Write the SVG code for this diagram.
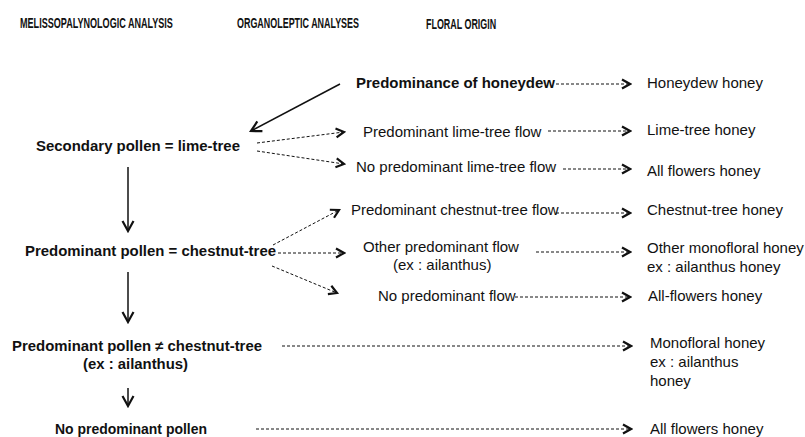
<svg xmlns="http://www.w3.org/2000/svg" width="805" height="437" viewBox="0 0 805 437">
<style>
text{font-family:"Liberation Sans",Arial,sans-serif;fill:#111}
.h{font-size:15px;font-weight:bold}
.b{font-size:14.5px;font-weight:bold}
.r{font-size:15px}
.s{stroke:#111;stroke-width:1.5;fill:none}
.d{stroke:#111;stroke-width:1;fill:none;stroke-dasharray:3 2}
</style>
<defs>
<marker id="ah" markerUnits="userSpaceOnUse" viewBox="-12 -7 14 14" refX="0" refY="0" markerWidth="14" markerHeight="14" orient="auto">
<path d="M-10,-5.5 L0,0 L-10,5.5" fill="none" stroke="#111" stroke-width="2.2"/>
</marker>
<marker id="dh" markerUnits="userSpaceOnUse" viewBox="-12 -7 14 14" refX="0" refY="0" markerWidth="14" markerHeight="14" orient="auto">
<path d="M-8,-4.5 L0,0 L-8,4.5" fill="none" stroke="#111" stroke-width="2.2"/>
</marker>
</defs>
<rect width="805" height="437" fill="#fff"/>
<g id="headers">
<text class="h" transform="translate(20,28) scale(0.595,1)" x="0" y="0" textLength="257" lengthAdjust="spacingAndGlyphs">MELISSOPALYNOLOGIC ANALYSIS</text>
<text class="h" transform="translate(237,28) scale(0.595,1)" x="0" y="0" textLength="205" lengthAdjust="spacingAndGlyphs">ORGANOLEPTIC ANALYSES</text>
<text class="h" transform="translate(426,29) scale(0.595,1)" x="0" y="0" textLength="118" lengthAdjust="spacingAndGlyphs">FLORAL ORIGIN</text>
</g>
<g id="connectors">
<line class="s" x1="128" y1="167" x2="128" y2="231" marker-end="url(#ah)"/>
<line class="s" x1="128" y1="272" x2="128" y2="322" marker-end="url(#ah)"/>
<line class="s" x1="128" y1="388" x2="128" y2="406" marker-end="url(#ah)"/>
<line class="s" x1="340" y1="84" x2="251" y2="131" marker-end="url(#ah)"/>
<line class="d" x1="257" y1="143" x2="344" y2="132" marker-end="url(#dh)"/>
<line class="d" x1="257" y1="151" x2="344" y2="164" marker-end="url(#dh)"/>
<line class="d" x1="273" y1="245" x2="339" y2="210" marker-end="url(#dh)"/>
<line class="d" x1="278" y1="253" x2="344" y2="253" marker-end="url(#dh)"/>
<line class="d" x1="272" y1="266" x2="337" y2="293" marker-end="url(#dh)"/>
<line class="d" x1="556" y1="84" x2="630" y2="84" marker-end="url(#dh)"/>
<line class="d" x1="548" y1="131" x2="630" y2="131" marker-end="url(#dh)"/>
<line class="d" x1="563" y1="169" x2="630" y2="169" marker-end="url(#dh)"/>
<line class="d" x1="556" y1="213" x2="630" y2="213" marker-end="url(#dh)"/>
<line class="d" x1="536" y1="252" x2="630" y2="252" marker-end="url(#dh)"/>
<line class="d" x1="515" y1="297" x2="630" y2="297" marker-end="url(#dh)"/>
<line class="d" x1="282" y1="346" x2="631" y2="346" marker-end="url(#dh)"/>
<line class="d" x1="256" y1="429" x2="631" y2="429" marker-end="url(#dh)"/>
</g>
<g id="n-secondary"><text class="b" x="36" y="151" textLength="204" lengthAdjust="spacingAndGlyphs">Secondary pollen = lime-tree</text></g>
<g id="n-chestnut"><text class="b" x="25" y="256" textLength="251" lengthAdjust="spacingAndGlyphs">Predominant pollen = chestnut-tree</text></g>
<g id="n-notchestnut"><text class="b" x="12" y="351" textLength="250" lengthAdjust="spacingAndGlyphs">Predominant pollen ≠ chestnut-tree</text>
<text class="b" x="83" y="369" textLength="105" lengthAdjust="spacingAndGlyphs">(ex : ailanthus)</text></g>
<g id="n-nopollen"><text class="b" x="55" y="434" textLength="152" lengthAdjust="spacingAndGlyphs">No predominant pollen</text></g>
<g id="o-honeydew"><text class="b" x="356" y="88" textLength="199" lengthAdjust="spacingAndGlyphs">Predominance of honeydew</text></g>
<g id="o-lime"><text class="r" x="363" y="137">Predominant lime-tree flow</text></g>
<g id="o-nolime"><text class="r" x="356" y="172">No predominant lime-tree flow</text></g>
<g id="o-chestnut"><text class="r" x="351" y="215">Predominant chestnut-tree flow</text></g>
<g id="o-other"><text class="r" x="363" y="252">Other predominant flow</text>
<text class="r" x="393" y="270">(ex : ailanthus)</text></g>
<g id="o-noflow"><text class="r" x="378" y="301">No predominant flow</text></g>
<g id="f-honeydew"><text class="r" x="647" y="88">Honeydew honey</text></g>
<g id="f-lime"><text class="r" x="647" y="135">Lime-tree honey</text></g>
<g id="f-all1"><text class="r" x="647" y="176">All flowers honey</text></g>
<g id="f-chestnut"><text class="r" x="647" y="215">Chestnut-tree honey</text></g>
<g id="f-othermono"><text class="r" x="647" y="253">Other monofloral honey</text>
<text class="r" x="647" y="272">ex : ailanthus honey</text></g>
<g id="f-allflowers"><text class="r" x="648" y="301">All-flowers honey</text></g>
<g id="f-mono"><text class="r" x="650" y="348">Monofloral honey</text>
<text class="r" x="650" y="367">ex : ailanthus</text>
<text class="r" x="650" y="386">honey</text></g>
<g id="f-all2"><text class="r" x="650" y="434">All flowers honey</text></g>
</svg>
